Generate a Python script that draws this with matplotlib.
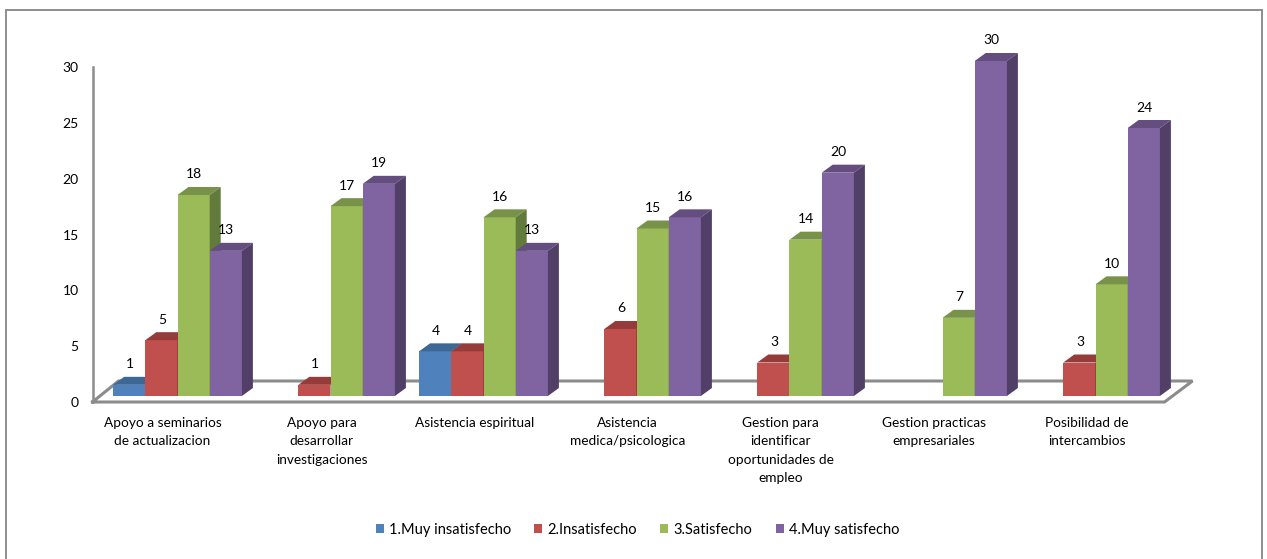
#Bar chart with a fake 3D look, drawn on a plain 2D axes
import matplotlib
matplotlib.use('Agg')
import matplotlib.pyplot as plt
from matplotlib.patches import Polygon, Rectangle
from matplotlib.transforms import ScaledTranslation
import numpy as np

plt.rcParams['font.family'] = ['Lato', 'DejaVu Sans']

categories = ['Apoyo a seminarios\nde actualizacion',
              'Apoyo para\ndesarrollar\ninvestigaciones',
              'Asistencia espiritual',
              'Asistencia\nmedica/psicologica',
              'Gestion para\nidentificar\noportunidades de\nempleo',
              'Gestion practicas\nempresariales',
              'Posibilidad de\nintercambios']
series_names = ['1.Muy insatisfecho', '2.Insatisfecho', '3.Satisfecho', '4.Muy satisfecho']
muy_insatisfecho = [1, 0, 4, 0, 0, 0, 0]
insatisfecho = [5, 1, 4, 6, 3, 0, 3]
satisfecho = [18, 17, 16, 15, 14, 7, 10]
muy_satisfecho = [13, 19, 13, 16, 20, 30, 24]
yticks = [0, 5, 10, 15, 20, 25, 30]

front = ['#4F81BD', '#C0504D', '#9BBB59', '#8064A2']
top = ['#3D6795', '#953C3A', '#78924A', '#644E80']
side = ['#335578', '#7A3130', '#627A3B', '#513F68']
series = [muy_insatisfecho, insatisfecho, satisfecho, muy_satisfecho]

W, H = 1267, 559
fig = plt.figure(figsize=(W/100, H/100), dpi=100)
fig.patch.set_facecolor('white')

#Outer border of the chart, bottom edge runs off the picture
fig.add_artist(Rectangle((5.5/W, -2/H), (1262-5.5)/W, (H-9.5+2)/H, transform=fig.transFigure,
                         fill=False, ec='#8E8E8E', lw=1.4))

#Axes: left edge is the front of the floor, y=0 is the foot of the bars
ax_l, ax_r, y0, y30 = 92.5, 1164.5, 396.0, 61.0
ax = fig.add_axes([ax_l/W, (H-y0)/H, (ax_r-ax_l)/W, (y0-y30)/H])
ax.patch.set_visible(False)
ax.set_ylim(0, 30)
px_x = 153.0   #one group in pixels
ax.set_xlim(-(113-92.5+64.5)/px_x, (ax_r-113-64.5)/px_x)
for s in ax.spines.values():
    s.set_visible(False)

ux = 1/px_x                 #data units per pixel, x
uy = 30/(y0-y30)            #data units per pixel, y
dx, dy = 11*ux, 8*uy        #depth of the bars
w = 32.2*ux                 #bar width

#Floor and left wall
grey = '#8C8C8C'
x_l, x_r = ax.get_xlim()
yf = -(402-y0)*uy
yb = (y0-381)*uy
ax.plot([x_l, x_r, x_r+28*ux, x_l+26*ux, x_l], [yf, yf, yb, yb, yf], color=grey, lw=2.2,
        clip_on=False, solid_joinstyle='miter', zorder=1)
ax.plot([x_l, x_l], [yf, 30-(67-61)*uy], color=grey, lw=1.8, clip_on=False, zorder=1)

x = np.arange(len(categories))
for i, vals in enumerate(series):
    pos = x + (i-1.5)*w
    ax.bar(pos, vals, w, color=front[i], zorder=3+i*0.1, label=series_names[i])
    for xi, v in zip(pos, vals):
        if v == 0:
            continue
        l, r = xi-w/2, xi+w/2
        ax.add_patch(Polygon([(l, v), (r, v), (r+dx, v+dy), (l+dx, v+dy)], fc=top[i], ec='none',
                             zorder=3+i*0.1, clip_on=False))
        ax.add_patch(Polygon([(r, 0), (r+dx, dy), (r+dx, v+dy), (r, v)], fc=side[i], ec='none',
                             zorder=3+i*0.1, clip_on=False))
        ax.annotate(str(v), (xi, v), xytext=(0.5, 20.5), textcoords='offset pixels', ha='center', va='center',
                    fontsize=10, color='black', zorder=10, annotation_clip=False)

ax.set_yticks(yticks)
ax.set_yticklabels([str(t) for t in yticks], fontsize=10)
ax.set_xticks(x)
ax.set_xticklabels(categories, fontsize=9.8, linespacing=1.65, va='top')
ax.tick_params(axis='y', length=0, pad=10)
ax.tick_params(axis='x', length=0, pad=15)

#Tick labels sit on the front plane, a little below and left of the bars.
#Has to come after tick_params, which resets the label transforms
shift = ScaledTranslation(0, -6/100, fig.dpi_scale_trans)
for t in ax.get_yticklabels():
    t.set_transform(t.get_transform()+shift)
xshift = [-15, -9, -9, -9, -9, -9, -9]
for t, d in zip(ax.get_xticklabels(), xshift):
    t.set_transform(t.get_transform()+ScaledTranslation(d/100, 0, fig.dpi_scale_trans))

ax.legend(loc='center', bbox_to_anchor=(637.5/W, (H-530)/H), bbox_transform=fig.transFigure,
          ncol=4, frameon=False, fontsize=10.5, handlelength=0.55, handleheight=0.55,
          columnspacing=1.6, handletextpad=0.35)

fig.savefig('out.png', dpi=100)
